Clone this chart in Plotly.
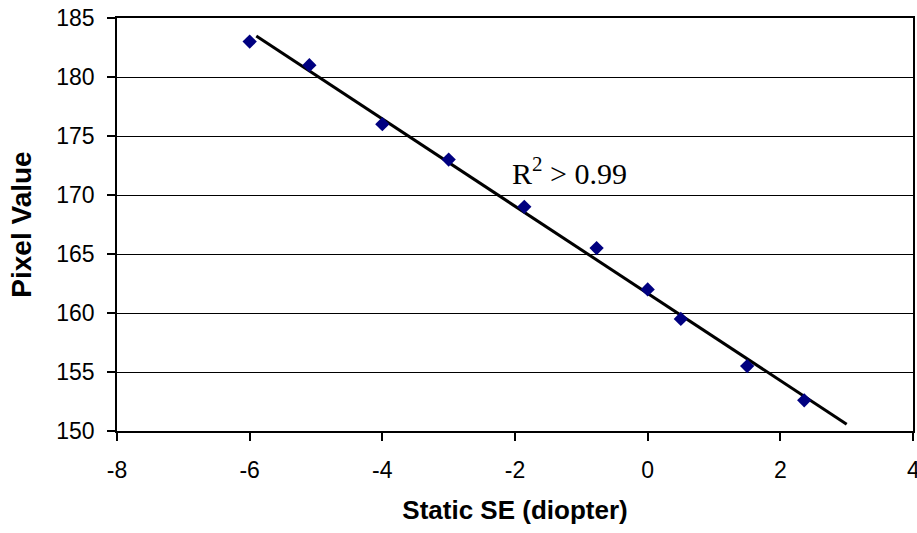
import numpy as np
import plotly.graph_objects as go

# Data
static_se = [-6.0, -5.1, -4.0, -3.0, -1.86, -0.77, 0.0, 0.5, 1.5, 2.36]
pixel_value = [183.0, 181.0, 176.0, 173.0, 169.0, 165.5, 162.0, 159.5, 155.5, 152.6]
trend_x_range = [-5.9, 3.0]
x_ticks = [-8, -6, -4, -2, 0, 2, 4]
y_ticks = [150, 155, 160, 165, 170, 175, 180, 185]

slope, intercept = np.polyfit(static_se, pixel_value, 1)
trend_x = np.array(trend_x_range)
trend_y = slope * trend_x + intercept

fig = go.Figure()
fig.add_trace(go.Scatter(
    x=trend_x, y=trend_y, mode="lines",
    line=dict(color="black", width=3),
    showlegend=False, hoverinfo="skip"))
fig.add_trace(go.Scatter(
    x=static_se, y=pixel_value, mode="markers",
    marker=dict(symbol="diamond", color="#000080", size=11,
                line=dict(width=0)),
    showlegend=False))

fig.add_annotation(
    x=-2.08, y=172.0, xref="x", yref="y", xanchor="left", yanchor="middle",
    text="R<sup>2</sup> > 0.99", showarrow=False,
    font=dict(family="Liberation Serif", size=30, color="black"))

tick_font = dict(family="Liberation Sans", size=23, color="black")

# last x tick label sits at the right edge and is cut off in the original
fig.add_annotation(
    x=x_ticks[-1], y=0, xref="x", yref="paper", xanchor="center", yanchor="top",
    yshift=-24, text=str(x_ticks[-1]), showarrow=False, font=tick_font)

fig.update_layout(
    width=917, height=533,
    margin=dict(l=117, r=2, t=18, b=102),
    paper_bgcolor="white", plot_bgcolor="white",
    xaxis=dict(
        range=[-8, 4], tickvals=x_ticks,
        ticktext=[str(v) for v in x_ticks[:-1]] + [""],
        showgrid=False, zeroline=False,
        showline=True, linecolor="black", linewidth=1.5, mirror=True,
        ticks="outside", ticklen=8, tickcolor="black", tickwidth=1.5,
        tickfont=tick_font, ticklabelstandoff=10,
        title=dict(text="<b>Static SE (diopter)</b>",
                   font=dict(family="Liberation Sans", size=26, color="black"),
                   standoff=18),
    ),
    yaxis=dict(
        range=[150, 185], tickvals=y_ticks, ticktext=[str(v) for v in y_ticks],
        showgrid=True, gridcolor="black", gridwidth=1.2, zeroline=False,
        showline=True, linecolor="black", linewidth=1.5, mirror=True,
        ticks="outside", ticklen=8, tickcolor="black", tickwidth=1.5,
        tickfont=tick_font, ticklabelstandoff=8,
        title=dict(text="<b>Pixel Value</b>",
                   font=dict(family="Liberation Sans", size=28, color="black"),
                   standoff=16),
    ),
)

fig.write_html("out.html")
